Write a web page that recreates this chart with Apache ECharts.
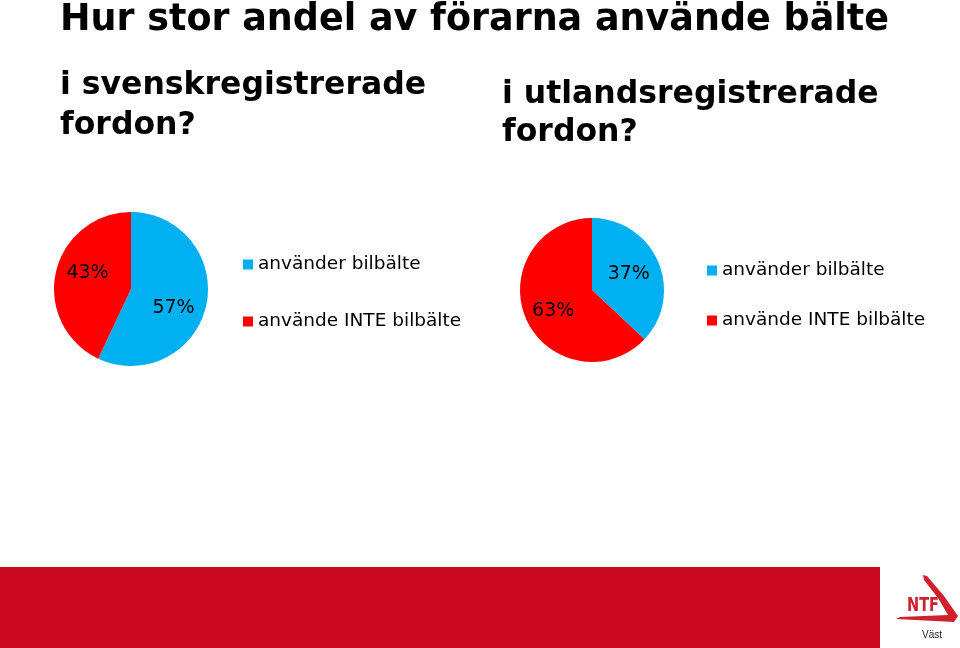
<!DOCTYPE html>
<html><head><meta charset="utf-8">
<script src="https://cdn.jsdelivr.net/npm/echarts@6/dist/echarts.min.js"></script>
<style>html,body{margin:0;padding:0;background:#fff}#c{width:960px;height:648px}</style>
</head><body><div id="c"></div>
<script>
var categories = ['använder bilbälte', 'använde INTE bilbälte'];
var svenskValues = [57, 43];
var utlandsValues = [37, 63];
var colors = ['#00B0F0', '#FF0000'];
var fontFam = '"DejaVu Sans", Verdana, sans-serif';

var chart = echarts.init(document.getElementById('c'));
function pieData(vals){ return categories.map(function(n,i){ return {name:n, value:vals[i]}; }); }
function pieSeries(vals, center, radius, offsets){
  return {
    type:'pie', center:center, radius:radius, startAngle:90, clockwise:true,
    silent:true, animation:false,
    label:{show:true, position:'inside', formatter:'{c}%', color:'#000', fontSize:19, fontFamily:fontFam},
    labelLine:{show:false},
    labelLayout:function(p){ var o = offsets[p.dataIndex]; return {dx:o[0], dy:o[1]}; },
    itemStyle:{borderWidth:0},
    data:pieData(vals)
  };
}
function legend(left, top, gap){
  return {orient:'vertical', left:left, top:top, itemWidth:10, itemHeight:10, itemGap:gap,
    icon:'rect', selectedMode:false, data:categories,
    textStyle:{fontSize:18.5, fontFamily:fontFam, color:'#000'}};
}
chart.setOption({
  color: colors,
  title:[
    {text:'Hur stor andel av förarna använde bälte', left:55, top:-3,
     textStyle:{fontSize:36.5, fontWeight:'bold', fontFamily:fontFam, color:'#000'}},
    {text:'i svenskregistrerade\nfordon?', left:55, top:61,
     textStyle:{fontSize:31.5, fontWeight:'bold', fontFamily:fontFam, color:'#000', lineHeight:40}},
    {text:'i utlandsregistrerade\nfordon?', left:497, top:71,
     textStyle:{fontSize:31.5, fontWeight:'bold', fontFamily:fontFam, color:'#000', lineHeight:38}}
  ],
  legend:[legend(238, 250, 38), legend(702, 256, 31)],
  series:[
    pieSeries(svenskValues, [131, 289], 77, [[2, 10], [-3, -7]]),
    pieSeries(utlandsValues, [592, 290], 72, [[1, 0], [-3, 6]])
  ],
  graphic:[
    {type:'rect', shape:{x:0, y:567, width:880, height:81}, style:{fill:'#C8081E'}},
    {type:'polygon', shape:{points:[[923,575],[927,576],[944,596],[958,616],[954,622],[896,619],[900,617],[948,615],[938,598],[924,580]]},
     style:{fill:'#D0202E'}},
    {type:'text', style:{text:'NTF', x:907, y:597, fontSize:19, fontWeight:'bold', fontFamily:'"Liberation Sans Narrow", "DejaVu Sans Condensed", sans-serif', fill:'#D0202E'},
     scaleX:0.85, originX:907, originY:597},
    {type:'text', style:{text:'Väst', x:922, y:630, fontSize:10, fontFamily:'"Liberation Sans", sans-serif', fill:'#222'}}
  ]
});
</script></body></html>
